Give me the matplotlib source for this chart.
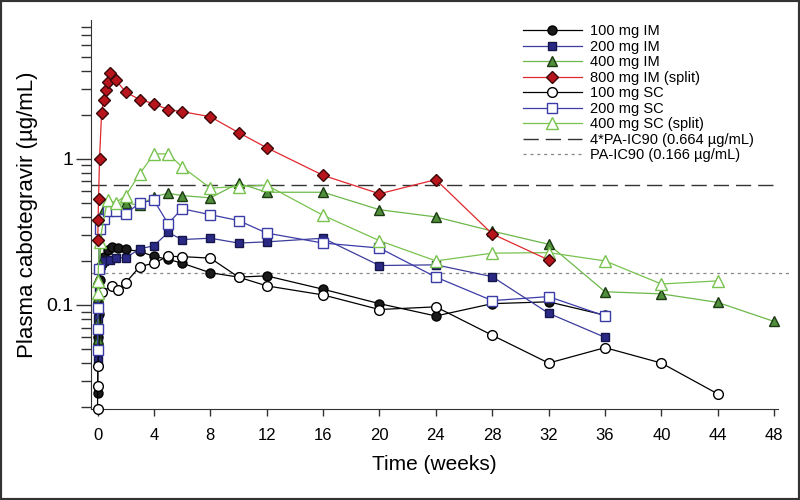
"""
cabotegravir PK profiles by dose and route
"""

import matplotlib
matplotlib.use("Agg")
import matplotlib.pyplot as plt
from matplotlib.ticker import FixedLocator, FixedFormatter, LogLocator, NullFormatter
from matplotlib.patches import Rectangle

plt.rcParams['font.family'] = ['Liberation Sans', 'DejaVu Sans']

# time (weeks) and plasma concentration (ug/mL) for each arm
t_100im = [0.01, 0.04, 0.07, 0.14, 0.29, 0.43, 0.71, 1.0, 1.43, 2, 3, 4, 5, 6, 8, 10, 12, 16, 20, 24, 28, 32, 36]
c_100im = [0.025, 0.06, 0.087, 0.147, 0.19, 0.214, 0.238, 0.25, 0.245, 0.24, 0.232, 0.215, 0.205, 0.193,
           0.166, 0.155, 0.158, 0.128, 0.102, 0.084, 0.102, 0.105, 0.085]

t_200im = [0.005, 0.01, 0.02, 0.07, 0.14, 0.43, 0.86, 1.29, 2, 3, 4, 5, 6, 8, 10, 12, 16, 20, 24, 28, 32, 36]
c_200im = [0.042, 0.055, 0.08, 0.13, 0.178, 0.2, 0.203, 0.21, 0.21, 0.242, 0.254, 0.313, 0.28, 0.286,
           0.265, 0.27, 0.286, 0.186, 0.188, 0.156, 0.0877, 0.060]

t_400im = [0.005, 0.01, 0.02, 0.04, 0.14, 0.43, 2, 3, 4, 5, 6, 8, 10, 12, 16, 20, 24, 28, 32, 36, 40, 44, 48]
c_400im = [0.058, 0.078, 0.114, 0.15, 0.19, 0.45, 0.50, 0.48, 0.55, 0.58, 0.56, 0.54, 0.68, 0.59, 0.59,
           0.448, 0.40, 0.32, 0.26, 0.123, 0.119, 0.104, 0.077]

t_800im = [0.02, 0.04, 0.07, 0.14, 0.29, 0.43, 0.57, 0.71, 0.86, 1.29, 2, 3, 4, 5, 6, 8, 10, 12, 16, 20, 24, 28, 32]
c_800im = [0.28, 0.38, 0.53, 1.0, 2.07, 2.54, 2.97, 3.37, 3.88, 3.48, 2.85, 2.54, 2.38, 2.17, 2.10, 1.94,
           1.51, 1.19, 0.77, 0.576, 0.72, 0.306, 0.203]

t_100sc = [0.0, 0.01, 0.02, 0.29, 1.0, 1.43, 2, 3, 4, 5, 6, 8, 10, 12, 16, 20, 24, 28, 32, 36, 40, 44]
c_100sc = [0.0195, 0.028, 0.038, 0.123, 0.134, 0.126, 0.142, 0.183, 0.193, 0.215, 0.214, 0.209, 0.155,
           0.135, 0.117, 0.093, 0.097, 0.062, 0.040, 0.051, 0.040, 0.0246]

t_200sc = [0.005, 0.01, 0.02, 0.07, 0.14, 0.43, 0.71, 1.29, 2, 3, 4, 5, 6, 8, 10, 12, 16, 20, 24, 28, 32, 36]
c_200sc = [0.049, 0.068, 0.095, 0.175, 0.33, 0.39, 0.44, 0.44, 0.42, 0.5, 0.52, 0.36, 0.455, 0.414,
           0.378, 0.31, 0.265, 0.245, 0.155, 0.107, 0.114, 0.084]

t_400sc = [0.01, 0.02, 0.14, 0.71, 1.29, 2, 3, 4, 5, 6, 8, 10, 12, 16, 20, 24, 28, 32, 36, 40, 44]
c_400sc = [0.12, 0.145, 0.27, 0.52, 0.50, 0.56, 0.79, 1.08, 1.08, 0.88, 0.63, 0.645, 0.66, 0.41, 0.275,
           0.20, 0.226, 0.228, 0.20, 0.139, 0.146]

pa_ic90 = 0.166
pa_ic90_4x = 0.664

x_ticks = [0, 4, 8, 12, 16, 20, 24, 28, 32, 36, 40, 44, 48]

fig = plt.figure(figsize=(8, 5), dpi=100)
ax = fig.add_axes([0.114, 0.182, 0.859, 0.778])

lw = 0.9
ax.plot(t_100im, c_100im, color="black", lw=lw, marker="o", ms=6.5, mfc="#1a1a1a", mec="black",
        label="100 mg IM", zorder=5, clip_on=False)
ax.plot(t_200im, c_200im, color="#3c3c9c", lw=lw, marker="s", ms=5.5, mfc="#2a2a86", mec="#15154a",
        label="200 mg IM", zorder=5, clip_on=False)
ax.plot(t_400im, c_400im, color="#6cb84a", lw=lw, marker="^", ms=6.5, mfc="#4f8e3a", mec="#1c3a12",
        label="400 mg IM", zorder=5, clip_on=False)
ax.plot(t_800im, c_800im, color="#e0282e", lw=lw, marker="D", ms=6, mfc="#b8141c", mec="#3a0808",
        label="800 mg IM (split)", zorder=6, clip_on=False)
ax.plot(t_100sc, c_100sc, color="black", lw=lw, marker="o", ms=7, mfc="white", mec="black",
        label="100 mg SC", zorder=5, clip_on=False)
ax.plot(t_200sc, c_200sc, color="#3c3ca8", lw=lw, marker="s", ms=6.5, mfc="white", mec="#3c3ca8",
        label="200 mg SC", zorder=5, clip_on=False)
ax.plot(t_400sc, c_400sc, color="#78c24e", lw=lw, marker="^", ms=8, mfc="white", mec="#78c24e",
        label="400 mg SC (split)", zorder=5, clip_on=False)

ax.plot([-0.45, 48], [pa_ic90_4x, pa_ic90_4x], color="#333333", lw=1.0, dashes=(11, 5),
        label="4*PA-IC90 (0.664 \u00b5g/mL)", zorder=2)
ax.plot([-0.45, 49.2], [pa_ic90, pa_ic90], color="#888888", lw=0.9, dashes=(2.5, 3),
        label="PA-IC90 (0.166 \u00b5g/mL)", zorder=2, clip_on=False)

ax.set_yscale("log")
ax.set_xlim(-0.45, 48.3)
ax.set_ylim(0.0194, 8.9)

ax.yaxis.set_major_locator(FixedLocator([0.1, 1]))
ax.yaxis.set_major_formatter(FixedFormatter(["0.1", "1"]))
ax.yaxis.set_minor_locator(LogLocator(base=10, subs=range(2, 10)))
ax.yaxis.set_minor_formatter(NullFormatter())
ax.set_xticks(x_ticks)

ax.spines.right.set_visible(False)
ax.spines.top.set_visible(False)
ax.spines.left.set_color("#333333")
ax.spines.bottom.set_color("#333333")

ax.tick_params(axis="y", which="major", length=11, width=1, color="#333333", labelsize=14, pad=2)
ax.tick_params(axis="y", which="minor", length=7, width=1, color="#333333")
ax.tick_params(axis="x", which="major", length=5, width=1, color="#333333", labelsize=12, pad=9)

ax.set_xlabel("Time (weeks)", fontsize=15, labelpad=8)
ax.set_ylabel("Plasma cabotegravir (\u00b5g/mL)", fontsize=16, labelpad=6)

ax.legend(loc="upper left", bbox_to_anchor=(0.654, 0.951), bbox_transform=fig.transFigure,
          frameon=False, fontsize=10.5, labelspacing=0.1, handlelength=4.0, handletextpad=0.6,
          borderpad=0, borderaxespad=0)

fig.patches.append(Rectangle((0, 0), 1, 1, transform=fig.transFigure, fill=False,
                             edgecolor="#333333", lw=3))

fig.savefig("out.png", dpi=100)
